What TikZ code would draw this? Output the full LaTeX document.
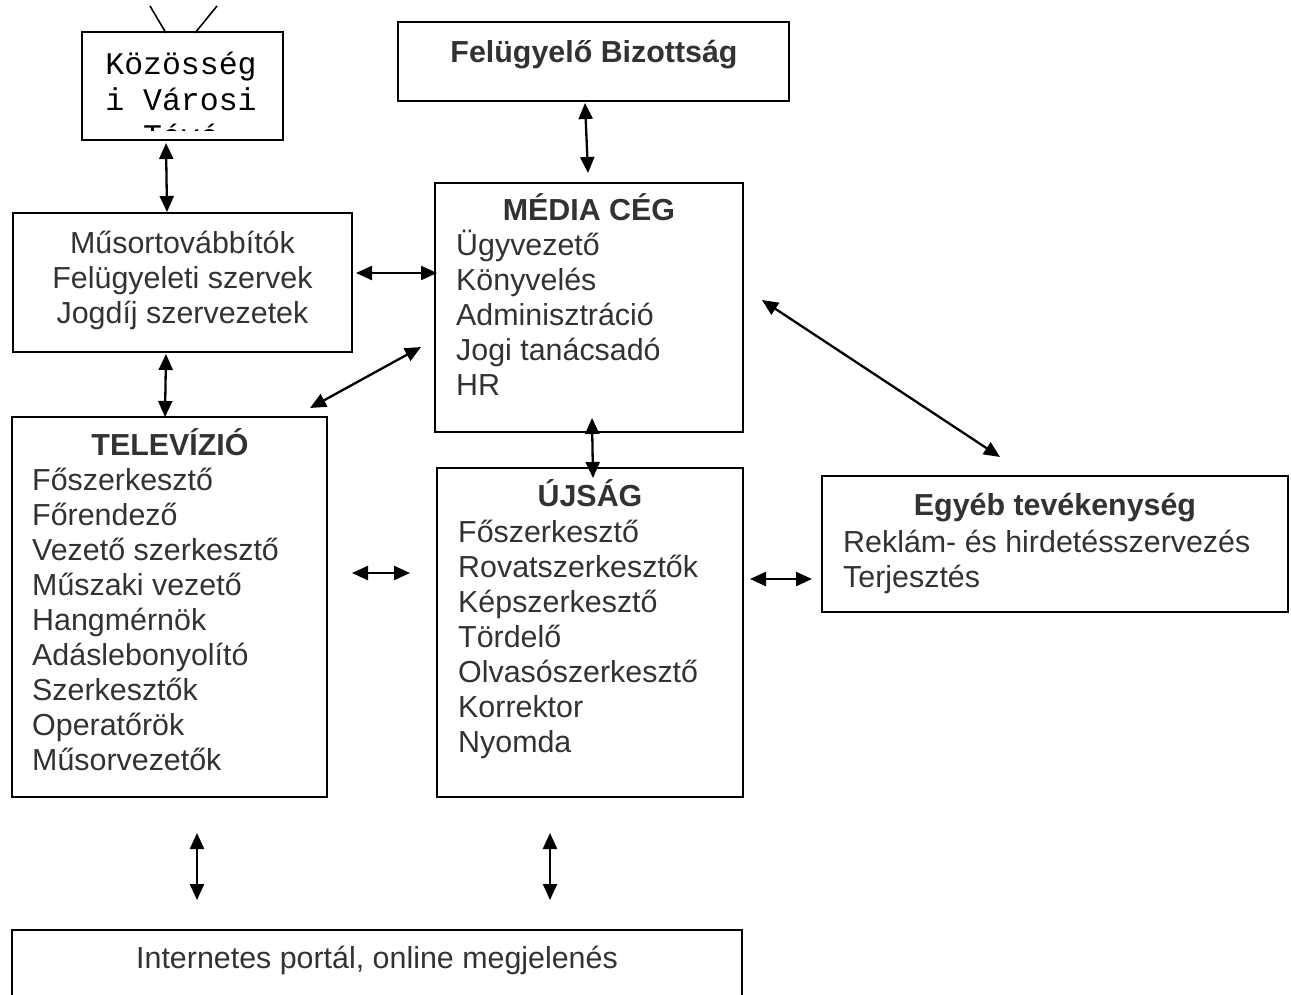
\documentclass[tikz,border=0pt]{standalone}
\usepackage{fontspec}
\setmainfont{Liberation Sans}
\newfontfamily\courierfont{Liberation Mono}
\usetikzlibrary{arrows.meta}
\definecolor{textgray}{RGB}{50,50,50}

\begin{document}
\begin{tikzpicture}[
	x = 1pt, y = -1pt, % pixel grid, y pointing down
	> = {Triangle[length=16pt, width=14pt]}, % arrow head style
	B/.style={draw=black, line width=2pt, rectangle, inner sep=0pt},
	T/.style={font=\fontsize{30.4}{35}\selectfont\bfseries, text=textgray, anchor=base, inner sep=0pt},
	C/.style={font=\fontsize{30.4}{35}\selectfont, text=textgray, anchor=base, inner sep=0pt},
	L/.style={font=\fontsize{30.4}{35}\selectfont, text=textgray, anchor=base west, inner sep=0pt},
	link/.style={<->, line width=2.3pt},
	]
	\clip (0,0) rectangle (1291,994);

	% Boxes
	\node[B, minimum width=201pt, minimum height=108pt] (kozosseg) at (182.5,86) {};
	\node[B, minimum width=391pt, minimum height=79pt] (felugyelo) at (593.5,61.5) {};
	\node[B, minimum width=308pt, minimum height=249pt] (media) at (589,307.5) {};
	\node[B, minimum width=339pt, minimum height=139pt] (musor) at (182.5,282.5) {};
	\node[B, minimum width=315pt, minimum height=380pt] (tv) at (169.5,607) {};
	\node[B, minimum width=306pt, minimum height=329pt] (ujsag) at (590,632.5) {};
	\node[B, minimum width=466pt, minimum height=136pt] (egyeb) at (1055,544) {};
	\node[B, minimum width=730pt, minimum height=80pt] (internet) at (377,970) {};

	% Antenna on the TV box
	\coordinate (antLa) at (150,6);
	\coordinate (antLb) at (166,33);
	\coordinate (antRa) at (217,6);
	\coordinate (antRb) at (195,33);
	\draw[line width=1.6pt] (antLa) -- (antLb);
	\draw[line width=1.6pt] (antRa) -- (antRb);

	% Texts
	\begin{scope}
		\clip (84,34) rectangle (281,130);
		\foreach \t [count=\i from 0] in {Közösség, i Városi, Tévé}
			\node[font=\courierfont\fontsize{31.5}{36}\selectfont, anchor=base, inner sep=0pt] (koz-\i) at (181,74+36*\i) {\t};
	\end{scope}
	\node[T] (felugyelo-t) at (594,62) {Felügyelő Bizottság};

	\node[T] (media-t) at (589,220) {MÉDIA CÉG};
	\foreach \t [count=\i from 0] in {Ügyvezető, Könyvelés, Adminisztráció, Jogi tanácsadó, HR}
		\node[L] (media-\i) at (456,255+35*\i) {\t};

	\foreach \t [count=\i from 0] in {Műsortovábbítók, Felügyeleti szervek, Jogdíj szervezetek}
		\node[C] (musor-\i) at (182.5,253+35*\i) {\t};

	\node[T] (tv-t) at (170,455) {TELEVÍZIÓ};
	\foreach \t [count=\i from 0] in {Főszerkesztő, Főrendező, Vezető szerkesztő, Műszaki vezető, Hangmérnök, Adáslebonyolító, Szerkesztők, Operatőrök, Műsorvezetők}
		\node[L] (tv-\i) at (32,490+35*\i) {\t};

	\node[T] (ujsag-t) at (590,506) {ÚJSÁG};
	\foreach \t [count=\i from 0] in {Főszerkesztő, Rovatszerkesztők, Képszerkesztő, Tördelő, Olvasószerkesztő, Korrektor, Nyomda}
		\node[L] (ujsag-\i) at (458,542+35*\i) {\t};

	\node[T] (egyeb-t) at (1055,515) {Egyéb tevékenység};
	\node[L] (egyeb-0) at (843,552) {Reklám- és hirdetésszervezés};
	\node[L] (egyeb-1) at (843,587) {Terjesztés};

	\node[C] (internet-t) at (377,968) {Internetes portál, online megjelenés};

	% Arrow end points
	\coordinate (a1) at (166,143);  \coordinate (b1) at (167,212);
	\coordinate (a2) at (585,103);  \coordinate (b2) at (588,173);
	\coordinate (a3) at (356,273);  \coordinate (b3) at (437,273);
	\coordinate (a4) at (166,354);  \coordinate (b4) at (165,417);
	\coordinate (a5) at (310,408);  \coordinate (b5) at (421,347);
	\coordinate (a6) at (762,300);  \coordinate (b6) at (1000,457);
	\coordinate (a7) at (592,418);  \coordinate (b7) at (593,478);
	\coordinate (a8) at (352,573);  \coordinate (b8) at (410,573);
	\coordinate (a9) at (750,579);  \coordinate (b9) at (812,579);
	\coordinate (a10) at (197,833); \coordinate (b10) at (197,900);
	\coordinate (a11) at (550,833); \coordinate (b11) at (550,900);

	% Connectors
	\foreach \k in {1,...,11}
		\draw[link] (a\k) -- (b\k);
\end{tikzpicture}
\end{document}
